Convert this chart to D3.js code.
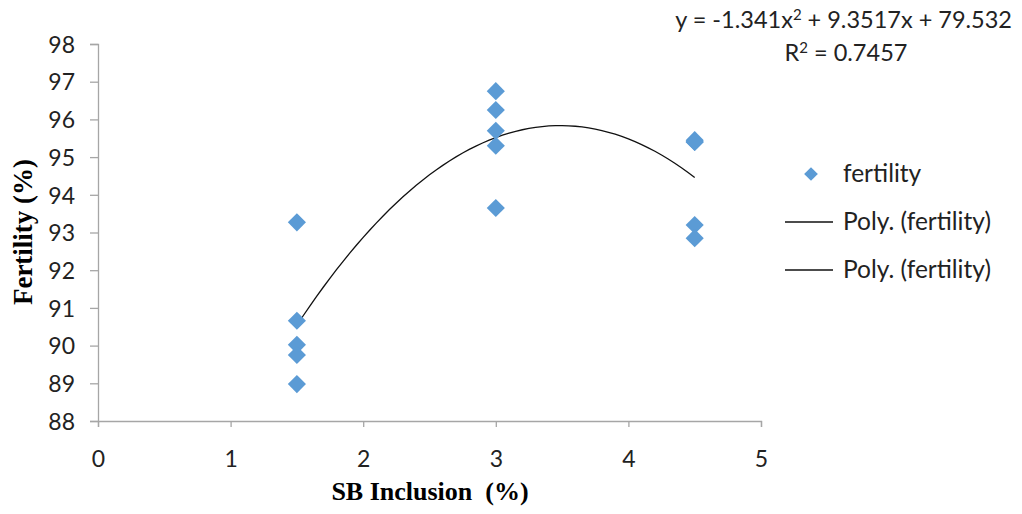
<!DOCTYPE html>
<html lang="en">
<meta charset="utf-8">
<head>
    <script src='https://d3js.org/d3.v7.min.js'></script>
    <style>
        body { margin: 0; background: #fff; }
        .tick text { font-family: Lato, "Open Sans", sans-serif; font-size: 23px; fill: #222; }
    </style>
</head>
<body>
<script>
// data
const inclusion = [1.5, 1.5, 1.5, 1.5, 1.5, 3, 3, 3, 3, 3, 4.5, 4.5, 4.5, 4.5, 4.5];
const fertility = [93.27, 90.66, 90.02, 89.75, 88.98,
                   96.75, 96.25, 95.7, 95.3, 93.65,
                   95.45, 95.4, 95.4, 93.2, 92.85];
// trendline coefficients (a x^2 + b x + c)
const coef = [-1.341, 9.3517, 79.532];
const xTicks = [0, 1, 2, 3, 4, 5];
const yTicks = [88, 89, 90, 91, 92, 93, 94, 95, 96, 97, 98];
const legendLabels = ["fertility", "Poly. (fertility)", "Poly. (fertility)"];

const margin = {top: 44, right: 261, bottom: 93, left: 98};
const width = 1022 - margin.left - margin.right;
const height = 514 - margin.top - margin.bottom;

const svg = d3.select('body')
    .append("svg")
    .attr("width", 1022)
    .attr("height", 514);
const g = svg.append("g")
    .attr("transform", "translate(" + margin.left + "," + margin.top + ")");

const x = d3.scaleLinear().domain([0, 5]).range([0, width]);
const y = d3.scaleLinear().domain([88, 98]).range([height, 0]);

// X axis
const xAxis = g.append("g")
    .attr("transform", "translate(0," + height + ")")
    .call(d3.axisBottom(x).tickValues(xTicks).tickSize(6).tickPadding(24).tickFormat(d3.format("d")));
// Y axis
const yAxis = g.append("g")
    .call(d3.axisLeft(y).tickValues(yTicks).tickSize(8).tickPadding(15).tickFormat(d3.format("d")));
[xAxis, yAxis].forEach(function(a) {
    a.select(".domain").attr("stroke", "#a6a6a6").attr("stroke-width", 1.3);
    a.selectAll(".tick line").attr("stroke", "#a6a6a6").attr("stroke-width", 1.3);
});
yAxis.selectAll(".tick text").attr("dy", "0.36em");

// axis titles
svg.append("text")
    .attr("x", 430).attr("y", 500)
    .attr("text-anchor", "middle")
    .style("font-family", '"Liberation Serif", serif')
    .style("font-weight", "bold").style("font-size", "26px")
    .style("white-space", "pre")
    .text("SB Inclusion  (%)");
svg.append("text")
    .attr("transform", "translate(32,232) rotate(-90)")
    .attr("text-anchor", "middle")
    .style("font-family", '"Liberation Serif", serif')
    .style("font-weight", "bold").style("font-size", "27px")
    .text("Fertility (%)");

// trendline
const xs = d3.range(0, 61).map(function(i) { return 1.5 + i * 0.05; });
g.append("path")
    .datum(xs)
    .attr("fill", "none")
    .attr("stroke", "#111")
    .attr("stroke-width", 1.3)
    .attr("d", d3.line()
        .x(function(d) { return x(d); })
        .y(function(d) { return y(coef[0] * d * d + coef[1] * d + coef[2]); })
    );

// points
const diamond = d3.symbol().type(d3.symbolDiamond2).size(210);
g.selectAll(".pt")
    .data(inclusion)
    .join("path")
    .attr("class", "pt")
    .attr("transform", function(d, i) { return "translate(" + x(d) + "," + y(fertility[i]) + ")"; })
    .attr("d", diamond)
    .attr("fill", "#5b9bd5");

// equation
const eq = svg.append("text")
    .attr("x", 1012).attr("y", 28)
    .attr("text-anchor", "end")
    .style("font-family", 'Lato, sans-serif').style("font-size", "23.5px").style("fill", "#222");
eq.append("tspan").text("y = " + coef[0] + "x");
eq.append("tspan").attr("dy", -8).style("font-size", "15px").text("2");
eq.append("tspan").attr("dy", 8).text(" + " + coef[1] + "x + " + coef[2]);
const r2 = svg.append("text")
    .attr("x", 846).attr("y", 61)
    .attr("text-anchor", "middle")
    .style("font-family", 'Lato, sans-serif').style("font-size", "23.5px").style("fill", "#222");
r2.append("tspan").text("R");
r2.append("tspan").attr("dy", -8).style("font-size", "15px").text("2");
r2.append("tspan").attr("dy", 8).text(" = 0.7457");

// legend
const legend = svg.append("g");
legendLabels.forEach(function(label, i) {
    const ly = 174 + i * 48;
    if (i === 0) {
        legend.append("path")
            .attr("transform", "translate(811," + ly + ")")
            .attr("d", d3.symbol().type(d3.symbolDiamond2).size(120))
            .attr("fill", "#5b9bd5");
    } else {
        legend.append("line")
            .attr("x1", 785).attr("x2", 833)
            .attr("y1", ly).attr("y2", ly)
            .attr("stroke", "#111").attr("stroke-width", 1.3);
    }
    legend.append("text")
        .attr("x", 843).attr("y", ly + 8)
        .style("font-family", 'Lato, sans-serif').style("font-size", "24.5px").style("fill", "#222")
        .text(label);
});
</script>
</body>
</html>
